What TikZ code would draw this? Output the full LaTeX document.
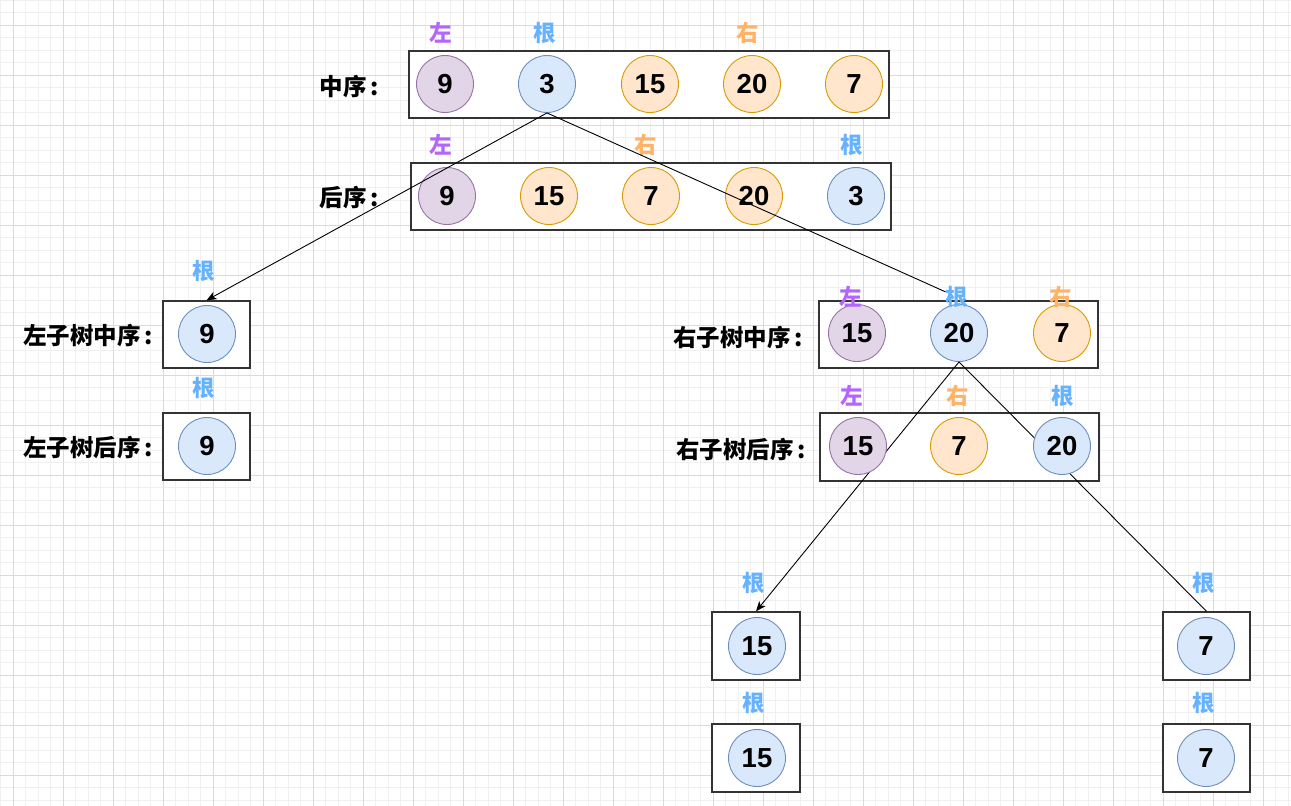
\documentclass[tikz,border=0pt]{standalone}
\usepackage{fontspec}
\setmainfont{Liberation Sans}
\newfontfamily\cjk{Noto Sans CJK SC}
\usetikzlibrary{arrows.meta}
\definecolor{pfill}{HTML}{E1D5E7}\definecolor{pdraw}{HTML}{9673A6}
\definecolor{bfill}{HTML}{DAE8FC}\definecolor{bdraw}{HTML}{6C8EBF}
\definecolor{ofill}{HTML}{FFE6CC}\definecolor{odraw}{HTML}{D79B00}
\definecolor{lp}{HTML}{B266FF}\definecolor{lb}{HTML}{66B2FF}\definecolor{lo}{HTML}{FFB366}
\definecolor{gminor}{HTML}{F0F0F0}\definecolor{gmajor}{HTML}{DADADA}
\tikzset{
  seqbox/.style={draw=black!80,line width=1.3pt,fill=white},
  circ/.style={circle,minimum size=57pt,inner sep=0pt,line width=0.9pt,font=\bfseries\fontsize{27.5}{27.5}\selectfont},
  cp/.style={circ,fill=pfill,draw=pdraw},
  cb/.style={circ,fill=bfill,draw=bdraw},
  co/.style={circ,fill=ofill,draw=odraw},
  tag/.style={inner sep=0pt,font=\cjk\bfseries\fontsize{22.5}{22.5}\selectfont},
  tagp/.style={tag,text=lp},
  tagb/.style={tag,text=lb},
  tago/.style={tag,text=lo},
  rowlbl/.style={anchor=east,inner sep=0pt,font=\cjk\bfseries\fontsize{23.5}{23.5}\selectfont},
  conn/.style={line width=0.9pt,black},
  arr/.style={conn,-{Stealth[length=10pt,width=8pt,inset=2.5pt]}}
}
\begin{document}
\begin{tikzpicture}[x=1pt,y=-1pt]
\useasboundingbox (0,0) rectangle (1291,806);
\fill[white] (0,0) rectangle (1291,806);
% grid
\foreach \k in {0,...,103} {\draw[gminor,line width=0.7pt] ({0.8+12.5*\k},0) -- ({0.8+12.5*\k},806);}
\foreach \k in {0,...,64} {\draw[gminor,line width=0.7pt] (0,{0.3+12.5*\k}) -- (1291,{0.3+12.5*\k});}
\foreach \k in {0,...,25} {\draw[gmajor,line width=0.8pt] ({13.3+50*\k},0) -- ({13.3+50*\k},806);}
\foreach \k in {0,...,15} {\draw[gmajor,line width=0.8pt] (0,{25.3+50*\k}) -- (1291,{25.3+50*\k});}

% top rows
\draw[seqbox] (409,51) rectangle (889,118);
\draw[seqbox] (411,163) rectangle (891,230);
\node[rowlbl] (lA) at (379,87) {中序\,:};
\node[rowlbl] (lB) at (379,198) {后序\,:};
\node[cp] (a1) at (445,84) {9};
\node[cb] (a2) at (547,84) {3};
\node[co] (a3) at (650,84) {15};
\node[co] (a4) at (752,84) {20};
\node[co] (a5) at (854,84) {7};
\node[cp] (b1) at (447,196) {9};
\node[co] (b2) at (549,196) {15};
\node[co] (b3) at (651,196) {7};
\node[co] (b4) at (754,196) {20};
\node[cb] (b5) at (856,196) {3};
\node[tagp] (ta1) at (441,33) {左};
\node[tagb] (ta2) at (545,33) {根};
\node[tago] (ta3) at (748,33) {右};
\node[tagp] (tb1) at (441,145) {左};
\node[tago] (tb2) at (646,145) {右};
\node[tagb] (tb3) at (852,145) {根};

% left subtree
\node[seqbox,minimum width=87pt,minimum height=67pt,inner sep=0pt] (lin) at (206.5,334.5) {};
\node[seqbox,minimum width=87pt,minimum height=67pt,inner sep=0pt] (lpo) at (206.5,446.5) {};
\node[cb] (lc1) at (207,334) {9};
\node[cb] (lc2) at (207,446) {9};
\node[tagb] (tl1) at (204,271) {根};
\node[tagb] (tl2) at (204,388) {根};
\node[rowlbl] (ll1) at (153,336) {左子树中序\,:};
\node[rowlbl] (ll2) at (153,448) {左子树后序\,:};

% right subtree boxes
\draw[seqbox] (819,301) rectangle (1098,368);
\draw[seqbox] (820,413) rectangle (1099,481);
\node[rowlbl] (rl1) at (803,338) {右子树中序\,:};
\node[rowlbl] (rl2) at (806,450) {右子树后序\,:};

% bottom boxes
\node[seqbox,minimum width=88pt,minimum height=68pt,inner sep=0pt] (bl1) at (756,646) {};
\node[seqbox,minimum width=88pt,minimum height=68pt,inner sep=0pt] (bl2) at (756,758) {};
\node[seqbox,minimum width=87pt,minimum height=68pt,inner sep=0pt] (br1) at (1206.5,646) {};
\node[seqbox,minimum width=87pt,minimum height=68pt,inner sep=0pt] (br2) at (1206.5,758) {};

% right subtree in-order circles
\node[cp] (r1) at (857,333) {15};
\node[cb] (r2) at (959,333) {20};
\node[co] (r3) at (1062,333) {7};

% connectors from right subtree root (under post-order circles)
\draw[arr] (r2.south) -- (bl1.north);
\draw[conn] (r2.south) -- (br1.north);

\node[cp] (s1) at (858,446) {15};
\node[co] (s2) at (959,446) {7};
\node[cb] (s3) at (1062,446) {20};

\node[cb] (bc1) at (757,646) {15};
\node[cb] (bc2) at (757,758) {15};
\node[cb] (bc3) at (1206,646) {7};
\node[cb] (bc4) at (1206,758) {7};

% connectors from the root
\node[tagp] (tr1) at (851,297) {左};
\node[tagb] (tr2) at (957,297) {根};
\node[tago] (tr3) at (1061,297) {右};
\draw[arr] (a2.south) -- (lin.north);
\draw[conn] (a2.south) -- (tr2);

\node[tagp] (ts1) at (852,396) {左};
\node[tago] (ts2) at (958,396) {右};
\node[tagb] (ts3) at (1063,396) {根};
\node[tagb] (tbl1) at (754,583) {根};
\node[tagb] (tbl2) at (754,703) {根};
\node[tagb] (tbr1) at (1204,583) {根};
\node[tagb] (tbr2) at (1204,703) {根};
\end{tikzpicture}
\end{document}
